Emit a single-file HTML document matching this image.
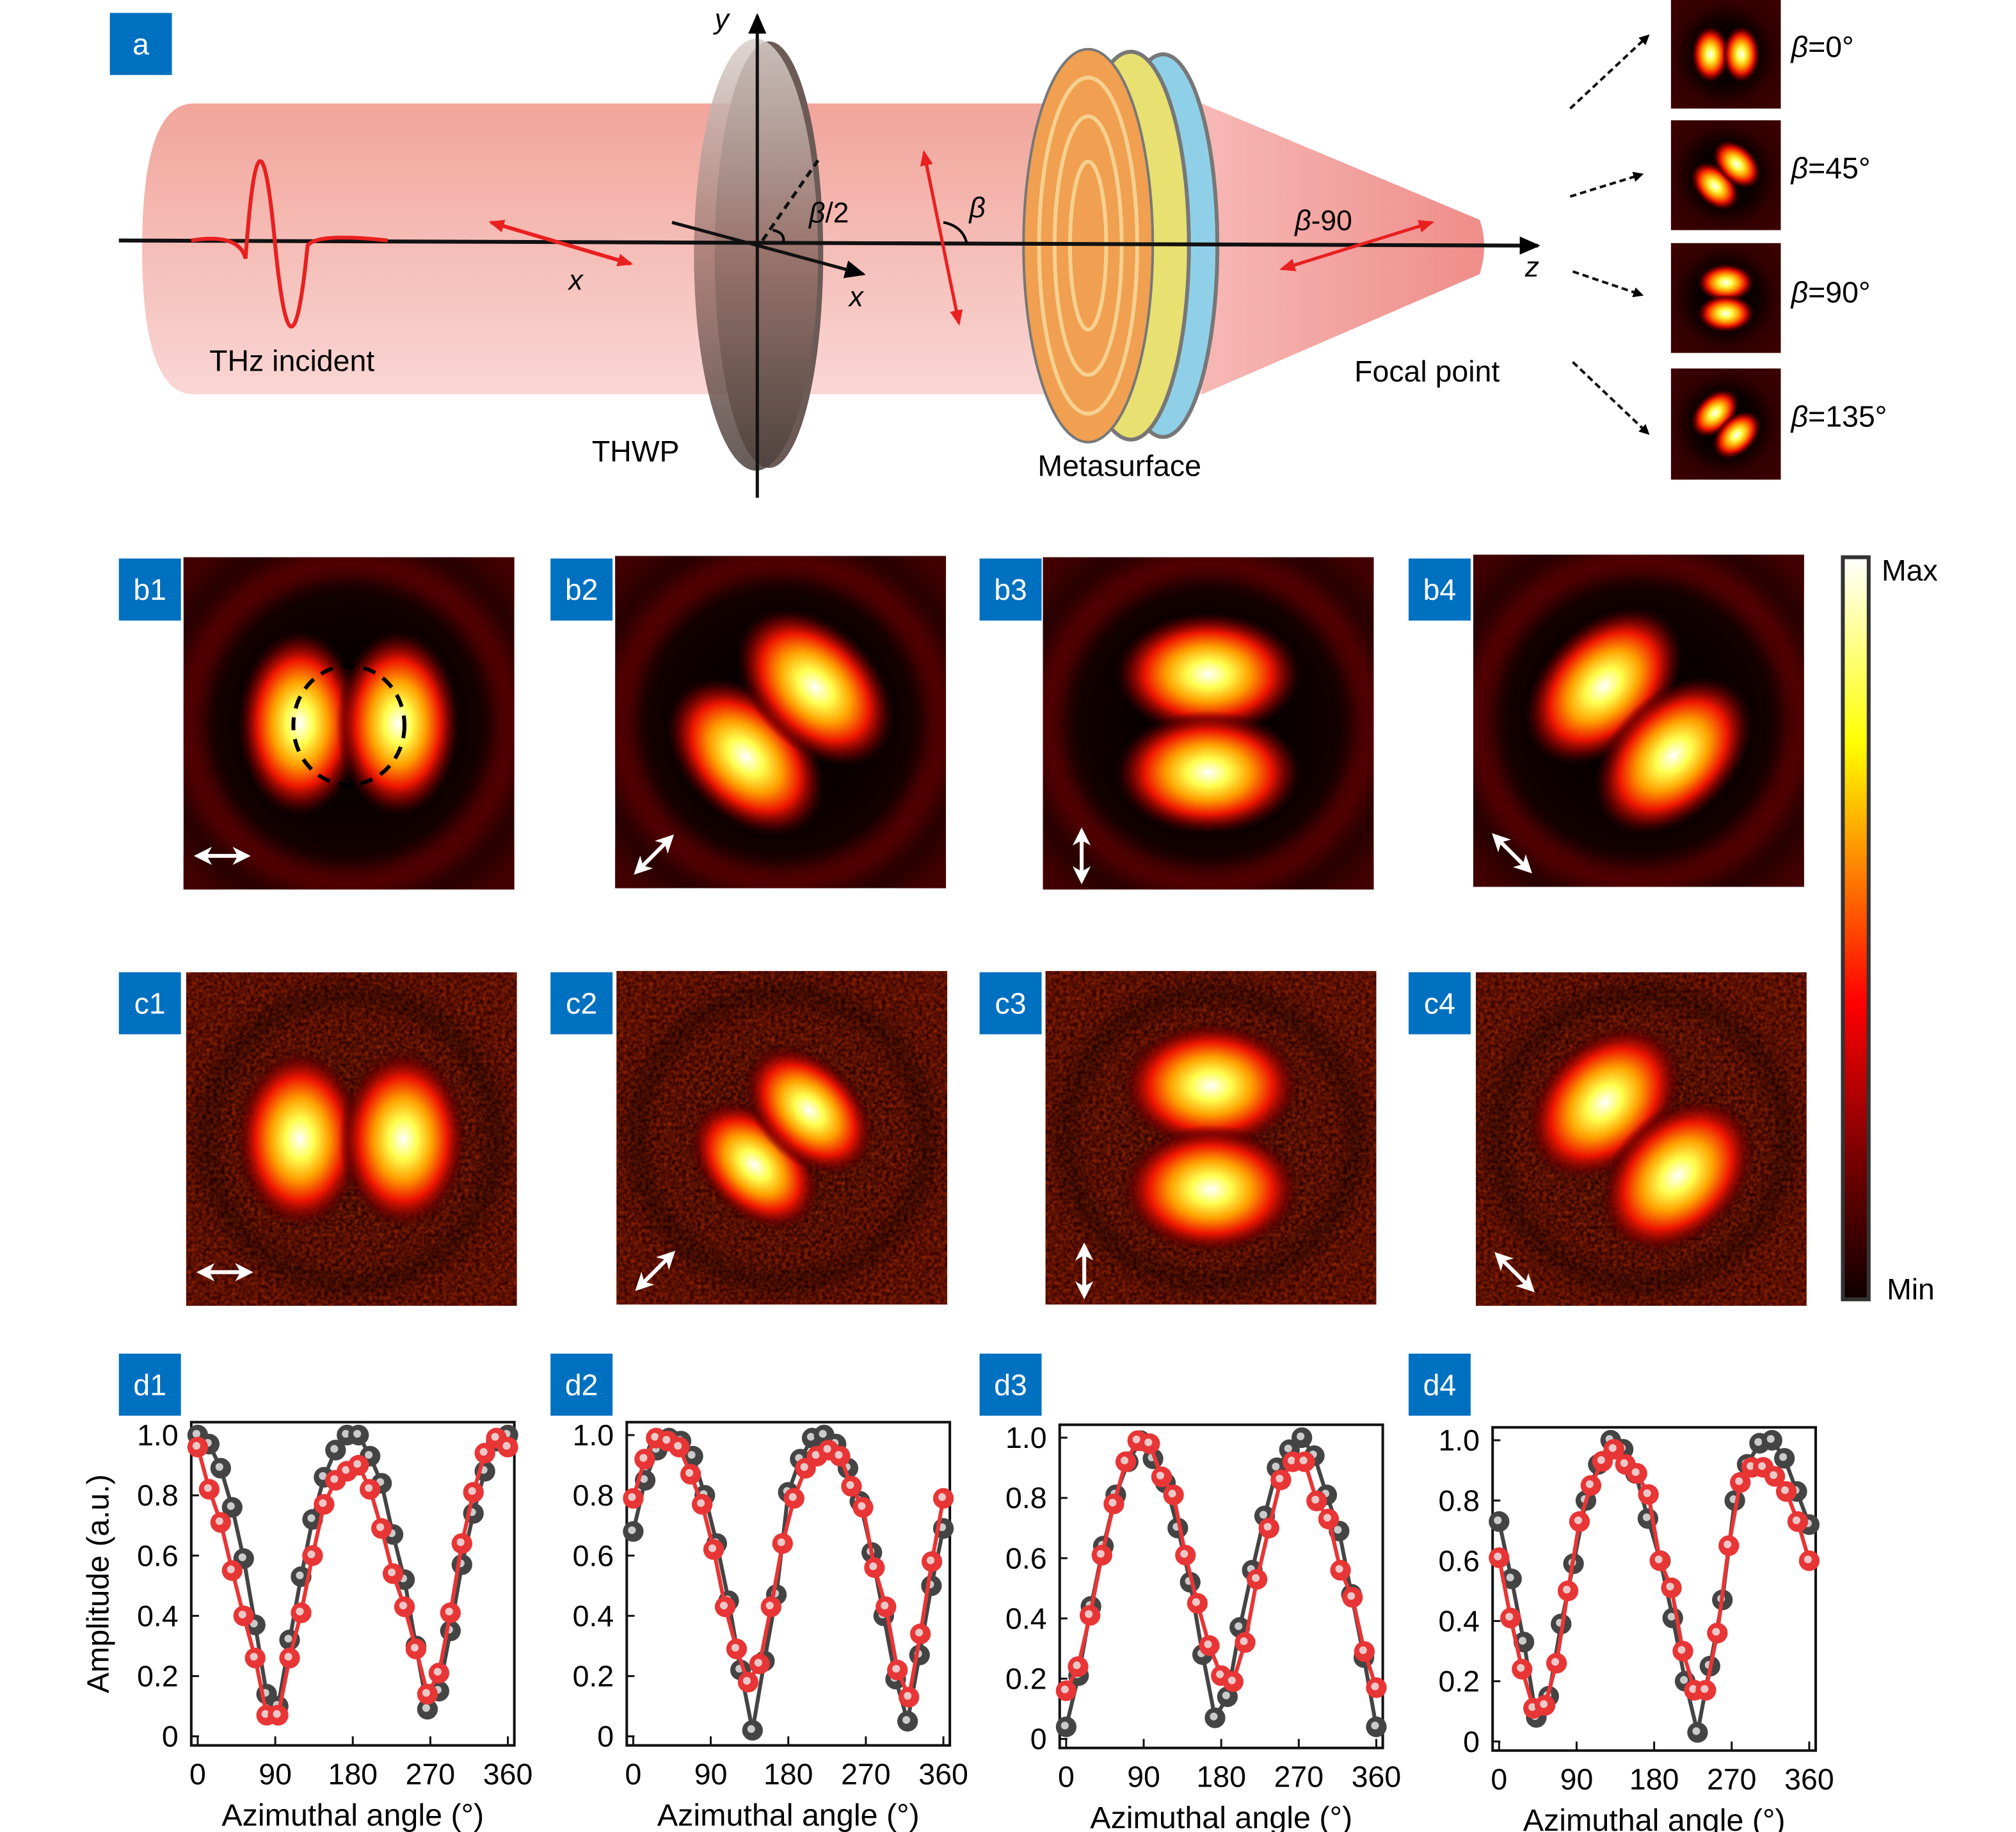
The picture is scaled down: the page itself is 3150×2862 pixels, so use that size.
<!DOCTYPE html>
<html><head><meta charset="utf-8">
<style>
html,body{margin:0;padding:0;background:#fff;}
svg{display:block;}
text{font-family:"Liberation Sans",sans-serif;}
</style></head>
<body>
<svg id="fig" width="3150" height="2862" viewBox="0 0 1560 1417" preserveAspectRatio="none" xmlns="http://www.w3.org/2000/svg">
<defs>
  <radialGradient id="lobe" cx="50%" cy="50%" r="50%">
    <stop offset="0" stop-color="#ffffff"/>
    <stop offset="0.22" stop-color="#ffff50"/>
    <stop offset="0.45" stop-color="#ffa000"/>
    <stop offset="0.68" stop-color="#ee1500"/>
    <stop offset="0.86" stop-color="#700000" stop-opacity="0.7"/>
    <stop offset="1" stop-color="#300000" stop-opacity="0"/>
  </radialGradient>
  <radialGradient id="bgHm" cx="50%" cy="50%" r="70%">
    <stop offset="0" stop-color="#000"/>
    <stop offset="0.6" stop-color="#120000"/>
    <stop offset="1" stop-color="#3a0200"/>
  </radialGradient>
  <radialGradient id="bgExp" cx="50%" cy="50%" r="70%">
    <stop offset="0" stop-color="#250000"/>
    <stop offset="1" stop-color="#3a0300"/>
  </radialGradient>
  <filter id="blur4"><feGaussianBlur stdDeviation="3"/></filter>
  <filter id="blur8"><feGaussianBlur stdDeviation="7"/></filter>
  <filter id="noise">
    <feTurbulence type="fractalNoise" baseFrequency="0.35" numOctaves="2" result="n"/>
    <feColorMatrix type="matrix" values="0 0 0 0 0.45  0 0 0 0 0.03  0 0 0 0 0  0 0 0 1.2 -0.3"/>
  </filter>
  <linearGradient id="cbar" x1="0" y1="0" x2="0" y2="1">
    <stop offset="0" stop-color="#ffffff"/>
    <stop offset="0.25" stop-color="#ffff00"/>
    <stop offset="0.6" stop-color="#ff0000"/>
    <stop offset="0.85" stop-color="#600000"/>
    <stop offset="1" stop-color="#100000"/>
  </linearGradient>
  <linearGradient id="beam" x1="0" y1="0" x2="0" y2="1">
    <stop offset="0" stop-color="#f0a095"/>
    <stop offset="1" stop-color="#f9d4d2"/>
  </linearGradient>
  <linearGradient id="cone" x1="0" y1="0" x2="1" y2="0">
    <stop offset="0" stop-color="#f6b8b5"/>
    <stop offset="1" stop-color="#ef8d8a"/>
  </linearGradient>
  <linearGradient id="thwp" x1="0" y1="0" x2="0" y2="1">
    <stop offset="0" stop-color="#d8cfcb"/>
    <stop offset="0.5" stop-color="#a07870"/>
    <stop offset="1" stop-color="#4a403c"/>
  </linearGradient>
  <marker id="arrBlk" markerWidth="8" markerHeight="8" refX="6" refY="4" orient="auto" markerUnits="userSpaceOnUse"><path d="M0,0 L8,4 L0,8 z" fill="#000"/></marker>
  <marker id="arrRed" markerWidth="12" markerHeight="10" refX="10" refY="5" orient="auto-start-reverse" markerUnits="userSpaceOnUse"><path d="M0,0 L12,5 L0,10 z" fill="#e82020"/></marker>
  <marker id="arrW" markerWidth="14" markerHeight="14" refX="10" refY="7" orient="auto-start-reverse" markerUnits="userSpaceOnUse"><path d="M0,0 L14,7 L0,14 L4,7 z" fill="#fff"/></marker>
  <marker id="arrBig" markerWidth="16" markerHeight="14" refX="14" refY="7" orient="auto" markerUnits="userSpaceOnUse"><path d="M0,0 L16,7 L0,14 z" fill="#000"/></marker>
</defs>

<g>
  <path d="M150,80 L930,80 L930,305 L150,305 Q110,305 110,192 Q110,80 150,80 z" fill="url(#beam)" opacity="0.95"/>
  <path d="M930,80 L1145,170 Q1152,190 1145,212 L930,305 z" fill="url(#cone)"/>
  <g>
    <ellipse cx="595" cy="197" rx="42" ry="165" fill="#6b5a55"/>
    <ellipse cx="585" cy="197" rx="48" ry="167" fill="url(#thwp)" opacity="0.85"/>
  </g>
  <g>
    <ellipse cx="900" cy="190" rx="42" ry="148" fill="#8fd0e8" stroke="#777" stroke-width="3"/>
    <ellipse cx="875" cy="190" rx="45" ry="150" fill="#e8e070" stroke="#777" stroke-width="3"/>
    <ellipse cx="842" cy="190" rx="50" ry="152" fill="#f0a050" stroke="#777" stroke-width="2"/>
    <ellipse cx="842" cy="190" rx="38" ry="130" fill="none" stroke="#f6d090" stroke-width="3"/>
    <ellipse cx="842" cy="190" rx="26" ry="100" fill="none" stroke="#f6d090" stroke-width="3"/>
    <ellipse cx="842" cy="190" rx="14" ry="65" fill="none" stroke="#f6d090" stroke-width="3"/>
  </g>
  <line x1="92" y1="186" x2="1190" y2="190" stroke="#111" stroke-width="3" marker-end="url(#arrBig)"/>
  <line x1="586" y1="385" x2="586" y2="12" stroke="#111" stroke-width="2.5" marker-end="url(#arrBig)"/>
  <line x1="520" y1="172" x2="668" y2="212" stroke="#111" stroke-width="2.5" marker-end="url(#arrBig)"/>
  <line x1="590" y1="186" x2="633" y2="124" stroke="#111" stroke-width="2.5" stroke-dasharray="6,4"/>
  <path d="M148,186 Q185,180 190,200 Q200,60 212,180 Q225,320 238,190 Q245,180 300,186" fill="none" stroke="#e82020" stroke-width="3"/>
  <line x1="380" y1="172" x2="488" y2="204" stroke="#e82020" stroke-width="3" marker-start="url(#arrRed)" marker-end="url(#arrRed)"/>
  <line x1="715" y1="118" x2="742" y2="250" stroke="#e82020" stroke-width="2.5" marker-start="url(#arrRed)" marker-end="url(#arrRed)"/>
  <line x1="992" y1="208" x2="1108" y2="172" stroke="#e82020" stroke-width="2.5" marker-start="url(#arrRed)" marker-end="url(#arrRed)"/>
  <path d="M598,178 Q608,180 606,188" fill="none" stroke="#000" stroke-width="2"/>
  <path d="M730,172 Q745,175 748,188" fill="none" stroke="#000" stroke-width="2"/>
  <text x="553" y="22" font-size="22" font-style="italic">y</text>
  <text x="440" y="224" font-size="22" font-style="italic">x</text>
  <text x="657" y="237" font-size="22" font-style="italic">x</text>
  <text x="1180" y="214" font-size="22" font-style="italic">z</text>
  <text x="626" y="172" font-size="22"><tspan font-style="italic">β</tspan>/2</text>
  <text x="750" y="168" font-size="22" font-style="italic">β</text>
  <text x="1002" y="178" font-size="22"><tspan font-style="italic">β</tspan>-90</text>
  <text x="162" y="287" font-size="23">THz incident</text>
  <text x="458" y="357" font-size="23">THWP</text>
  <text x="803" y="368" font-size="23">Metasurface</text>
  <text x="1048" y="295" font-size="23">Focal point</text>
  <g stroke="#111" stroke-width="2" stroke-dasharray="5,3" fill="none">
    <line x1="1215" y1="84" x2="1275" y2="28" marker-end="url(#arrBlk)"/>
    <line x1="1215" y1="152" x2="1270" y2="135" marker-end="url(#arrBlk)"/>
    <line x1="1217" y1="210" x2="1270" y2="228" marker-end="url(#arrBlk)"/>
    <line x1="1217" y1="280" x2="1275" y2="335" marker-end="url(#arrBlk)"/>
  </g>
  <text x="1386" y="44" font-size="23"><tspan font-style="italic">β</tspan>=0°</text>
  <text x="1386" y="138" font-size="23"><tspan font-style="italic">β</tspan>=45°</text>
  <text x="1386" y="234" font-size="23"><tspan font-style="italic">β</tspan>=90°</text>
  <text x="1386" y="330" font-size="23"><tspan font-style="italic">β</tspan>=135°</text>
</g>
<g id="maps"></g>
<g>
  <rect x="1426" y="431" width="20" height="574" fill="url(#cbar)" stroke="#333" stroke-width="3"/>
  <text x="1456" y="449" font-size="23">Max</text>
  <text x="1460" y="1005" font-size="23">Min</text>
</g>
<g id="plots"></g>
<text transform="translate(84,1225) rotate(-90)" text-anchor="middle" font-size="24">Amplitude (a.u.)</text>
</svg>
<script>
const xTicks = [0, 90, 180, 270, 360];
const yTicks = [0, 0.2, 0.4, 0.6, 0.8, 1.0];
const yTickLabels = ["0", "0.2", "0.4", "0.6", "0.8", "1.0"];
const d1Sim = [1.0,0.97,0.89,0.76,0.59,0.37,0.14,0.10,0.32,0.53,0.72,0.86,0.95,1.0,1.0,0.93,0.84,0.67,0.52,0.30,0.09,0.15,0.35,0.57,0.74,0.88,0.98,1.0];
const d1Exp = [0.96,0.82,0.71,0.55,0.40,0.26,0.07,0.07,0.26,0.41,0.60,0.77,0.85,0.88,0.90,0.82,0.69,0.54,0.43,0.29,0.14,0.21,0.41,0.64,0.81,0.94,0.99,0.96];
const d2Sim = [0.68,0.85,0.95,0.99,0.98,0.93,0.80,0.64,0.45,0.22,0.02,0.25,0.47,0.81,0.92,0.99,1.0,0.97,0.89,0.78,0.61,0.40,0.19,0.05,0.27,0.50,0.69];
const d2Exp = [0.79,0.92,0.99,0.98,0.96,0.87,0.77,0.62,0.43,0.29,0.18,0.24,0.43,0.64,0.79,0.89,0.93,0.95,0.93,0.83,0.76,0.56,0.43,0.22,0.13,0.34,0.58,0.79];
const d3Sim = [0.04,0.21,0.44,0.64,0.81,0.92,0.99,0.93,0.85,0.70,0.52,0.28,0.07,0.14,0.37,0.56,0.74,0.90,0.96,1.0,0.94,0.81,0.69,0.48,0.27,0.04];
const d3Exp = [0.16,0.24,0.41,0.61,0.78,0.92,0.99,0.98,0.87,0.81,0.61,0.45,0.31,0.21,0.19,0.32,0.53,0.70,0.86,0.92,0.92,0.79,0.73,0.56,0.47,0.29,0.17];
const d4Sim = [0.73,0.54,0.33,0.08,0.15,0.39,0.59,0.80,0.92,1.0,0.97,0.89,0.74,0.60,0.41,0.20,0.03,0.25,0.47,0.80,0.92,0.99,1.0,0.94,0.83,0.72];
const d4Exp = [0.61,0.41,0.24,0.11,0.12,0.26,0.50,0.73,0.85,0.93,0.97,0.92,0.89,0.82,0.60,0.51,0.30,0.17,0.17,0.36,0.65,0.86,0.91,0.91,0.88,0.83,0.73,0.60];

const NS = "http://www.w3.org/2000/svg";
function mk(tag, attrs, parent){ const e=document.createElementNS(NS,tag); for(const k in attrs) e.setAttribute(k,attrs[k]); if(parent) parent.appendChild(e); return e; }

function label(x,y,txt){
  const g=mk('g',{},document.getElementById('fig'));
  
  
  mk('rect',{x:x,y:y,width:48,height:48,fill:'#0070c0'},g);
  const t=mk('text',{x:x+24,y:y+32,'font-size':23,fill:'#fff','text-anchor':'middle'},g);
  t.textContent=txt;
}
label(85,10,'a');

const maps=document.getElementById('maps');
let clipId=0;
function heatmap(x,y,w,h,ang,name,opts){
  opts=opts||{};
  const g=mk('g',{},maps);
  
  
  const cid='clip'+(clipId++);
  const cp=mk('clipPath',{id:cid},g); mk('rect',{x:x,y:y,width:w,height:h},cp);
  const inner=mk('g',{'clip-path':'url(#'+cid+')'},g);
  mk('rect',{x:x,y:y,width:w,height:h,fill:opts.noise?'url(#bgExp)':'url(#bgHm)'},inner);
  const cx=x+w/2, cy=y+h/2, s=w/256;
  if(opts.noise) mk('rect',{x:x,y:y,width:w,height:h,filter:'url(#noise)'},inner);
  if(!opts.noring){
    mk('circle',{cx:cx,cy:cy,r:124*s,fill:'none',stroke:'#520600','stroke-width':24*s,filter:'url(#blur8)'},inner);
    mk('circle',{cx:cx,cy:cy,r:175*s,fill:'none',stroke:'#420400','stroke-width':28*s,filter:'url(#blur8)'},inner);
  } else {
    mk('circle',{cx:cx,cy:cy,r:112*s,fill:'none',stroke:'#000','stroke-width':10*s,opacity:0.5,filter:'url(#blur8)'},inner);
  }
  const sep=(opts.sep||38)*s;
  const lg=mk('g',{transform:'rotate('+ang+' '+cx+' '+cy+')'},inner);
  const rx=(opts.rx||48)*s, ry=(opts.ry||72)*s;
  mk('ellipse',{cx:cx-sep,cy:cy,rx:rx,ry:ry,fill:'url(#lobe)'},lg);
  mk('ellipse',{cx:cx+sep,cy:cy,rx:rx,ry:ry,fill:'url(#lobe)'},lg);
  mk('line',{x1:cx,y1:cy-125*s,x2:cx,y2:cy+125*s,stroke:'#000','stroke-width':(opts.gap||7)*s,filter:'url(#blur4)'},lg);
  if(opts.arrow!==undefined){
    const ax=x+30*s, ay=y+h-26*s, L=18*s, a=opts.arrow*Math.PI/180;
    const ar=mk('line',{x1:ax-L*Math.cos(a),y1:ay+L*Math.sin(a),x2:ax+L*Math.cos(a),y2:ay-L*Math.sin(a),stroke:'#fff','stroke-width':3,'marker-start':'url(#arrW)','marker-end':'url(#arrW)'},g);
    
    
  }
  return g;
}
heatmap(1293,0,85,84,0,'thumb-beta-0',{sep:36,rx:44,ry:66});
heatmap(1293,93,85,85,-45,'thumb-beta-45',{sep:36,rx:44,ry:66});
heatmap(1293,188,85,85,90,'thumb-beta-90',{sep:36,rx:44,ry:66});
heatmap(1293,285,85,86,45,'thumb-beta-135',{sep:36,rx:44,ry:66});
const bPos=[[142,431],[476,430],[807,431],[1140,429]];
const angs=[0,-45,90,45];
const arrows=[0,45,90,-45];
bPos.forEach((p,i)=>{ heatmap(p[0],p[1],256,257,angs[i],'sim-map-b'+(i+1),{arrow:arrows[i]}); });
[[92,432,'b1'],[426,432,'b2'],[758,432,'b3'],[1090,432,'b4']].forEach(l=>label(l[0],l[1],l[2]));
const dashed=mk('ellipse',{cx:270,cy:561,rx:43,ry:46,fill:'none',stroke:'#000','stroke-width':3,'stroke-dasharray':'10,7'},maps);


const cPos=[[144,752],[477,751],[809,751],[1142,752]];
cPos.forEach((p,i)=>{ heatmap(p[0],p[1],256,258,angs[i],'exp-map-c'+(i+1),{arrow:arrows[i],noise:true,noring:true,sep:i==1?30:40,rx:i==1?40:50,ry:i==1?60:70,gap:9}); });
[[92,752,'c1'],[426,752,'c2'],[758,752,'c3'],[1090,752,'c4']].forEach(l=>label(l[0],l[1],l[2]));
[[92,1047,'d1'],[426,1047,'d2'],[758,1047,'d3'],[1090,1047,'d4']].forEach(l=>label(l[0],l[1],l[2]));

const plots=document.getElementById('plots');
const panels=[
  {box:[148,1100,250,250], y1:1110, y0:1343, sim:d1Sim, exp:d1Exp, n:'d1'},
  {box:[485,1100,250,250], y1:1110, y0:1343, sim:d2Sim, exp:d2Exp, n:'d2'},
  {box:[820,1102,250,250], y1:1112, y0:1345, sim:d3Sim, exp:d3Exp, n:'d3'},
  {box:[1155,1104,250,250], y1:1114, y0:1347, sim:d4Sim, exp:d4Exp, n:'d4'}
];
panels.forEach(P=>{
  const [bx,by,bw,bh]=P.box;
  const g=mk('g',{},plots);
  
  
  const xs=v=>bx+5+v/360*(bw-10);
  const ys=v=>P.y0+(P.y1-P.y0)*v;
  mk('rect',{x:bx,y:by,width:bw,height:bh,fill:'#fff',stroke:'#111','stroke-width':2},g);
  xTicks.forEach(t=>{
    const tk=mk('line',{x1:xs(t),y1:by+bh,x2:xs(t),y2:by+bh-7,stroke:'#111','stroke-width':1.5},g);
    
    
    const tl=mk('text',{x:xs(t),y:by+bh+30,'font-size':23,'text-anchor':'middle'},g);
    
    
    tl.textContent=t;
  });
  yTicks.forEach((t,i)=>{
    const tk=mk('line',{x1:bx,y1:ys(t),x2:bx+6,y2:ys(t),stroke:'#111','stroke-width':1.5},g);
    
    
    const tl=mk('text',{x:bx-10,y:ys(t)+8,'font-size':23,'text-anchor':'end'},g);
    
    
    tl.textContent=yTickLabels[i];
  });
  const at=mk('text',{x:bx+bw/2,y:by+bh+62,'font-size':24,'text-anchor':'middle'},g);
  
  
  at.textContent='Azimuthal angle (°)';
  [[P.sim,'#444','simulation-series'],[P.exp,'#e83535','experiment-series']].forEach(([arr,c,nm])=>{
    const sg=mk('g',{},g);
    
    
    const pts=arr.map((v,i)=>[xs(i*360/(arr.length-1)),ys(v)]);
    mk('polyline',{points:pts.map(p=>p.join(',')).join(' '),fill:'none',stroke:c,'stroke-width':3},sg);
    pts.forEach(p=>{
      const d=mk('circle',{cx:p[0],cy:p[1],r:8,fill:c},sg);
      
      
      mk('circle',{cx:p[0]-1,cy:p[1]-1,r:3,fill:'#eee',opacity:0.8},sg);
    });
  });
});
</script>
</body></html>
